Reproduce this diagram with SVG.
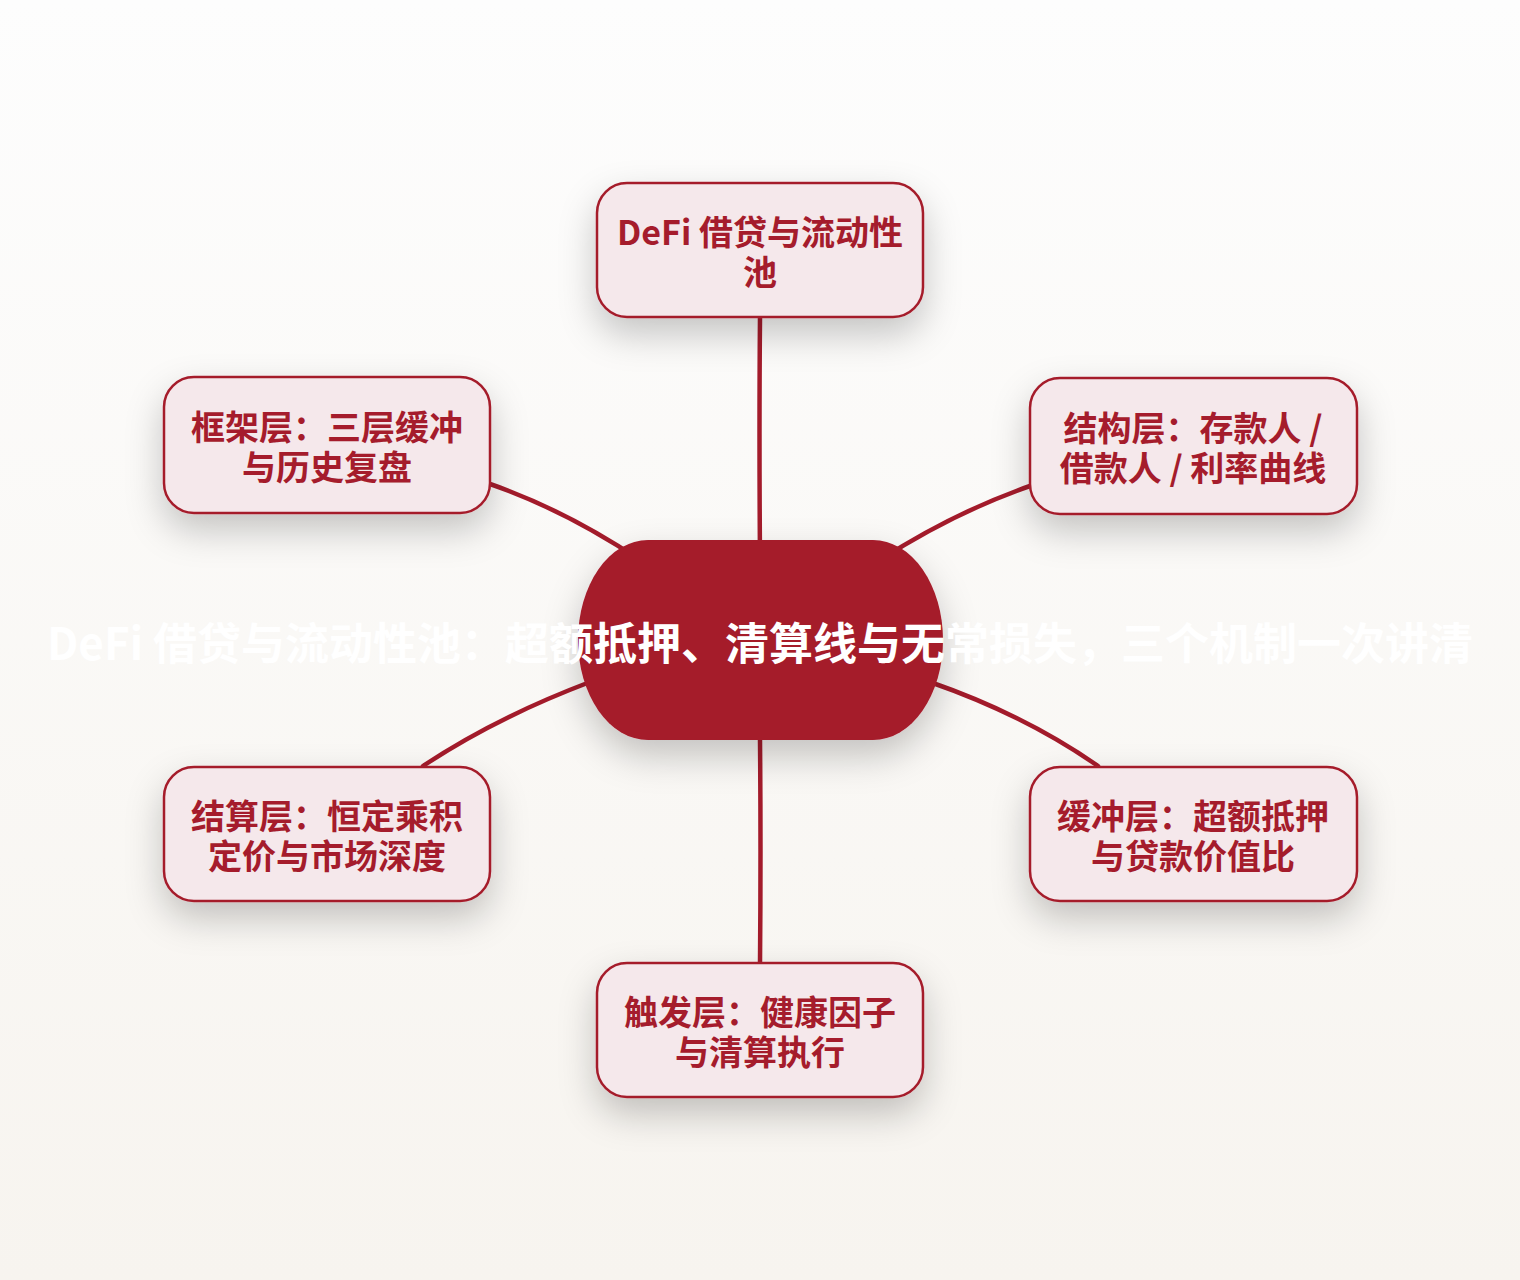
<svg xmlns="http://www.w3.org/2000/svg" width="1520" height="1280" viewBox="0 0 1520 1280">
  <defs>
    <linearGradient id="bg" x1="0" y1="0" x2="0" y2="1">
      <stop offset="0" stop-color="#fdfdfd"/>
      <stop offset="1" stop-color="#f7f4ef"/>
    </linearGradient>
    <filter id="shadow" x="-30%" y="-30%" width="160%" height="190%">
      <feDropShadow dx="0" dy="16" stdDeviation="18" flood-color="#000" flood-opacity="0.22"/>
    </filter>
    <style>
      .box { fill: #f5e8eb; stroke: #a51c2c; stroke-width: 2.5; }
      .lbl { font-family: "Noto Sans CJK SC", "Noto Sans", sans-serif; font-weight: 700; font-size: 34px; fill: #a51c2c; text-anchor: middle; }
      .edge { fill: none; stroke: #a31b2b; stroke-width: 4.5; stroke-linecap: round; }
      .hub { fill: #a51b2b; }
      .hubtxt { font-family: "Noto Sans CJK SC", "Noto Sans", sans-serif; font-weight: 700; font-size: 44px; fill: #ffffff; text-anchor: middle; }
    </style>
  </defs>
  <rect x="0" y="0" width="1520" height="1280" fill="url(#bg)"/>

  <g id="connectors">
    <path class="edge" d="M760,317 Q759,430 760,560"/>
    <path class="edge" d="M760,740 Q761,850 760,963"/>
    <path class="edge" d="M490,484 Q565,510 640,560"/>
    <path class="edge" d="M1030,486 Q955,512 880,560"/>
    <path class="edge" d="M590,682 Q495,718 423,766"/>
    <path class="edge" d="M930,682 Q1025,715 1098,766"/>
  </g>

  <g id="center">
    <rect class="hub" x="578" y="540" width="365" height="200" rx="70" ry="100" filter="url(#shadow)"/>
    <text class="hubtxt" x="760" y="660">DeFi 借贷与流动性池：超额抵押、清算线与无常损失，三个机制一次讲清</text>
  </g>

  <g id="node-top">
    <rect class="box" x="597" y="183" width="326" height="134" rx="30" filter="url(#shadow)"/>
    <text class="lbl" x="760" y="245">DeFi 借贷与流动性</text>
    <text class="lbl" x="760" y="285">池</text>
  </g>

  <g id="node-framework">
    <rect class="box" x="164" y="377" width="326" height="136" rx="30" filter="url(#shadow)"/>
    <text class="lbl" x="327" y="440">框架层：三层缓冲</text>
    <text class="lbl" x="327" y="480">与历史复盘</text>
  </g>

  <g id="node-structure">
    <rect class="box" x="1030" y="378" width="327" height="136" rx="30" filter="url(#shadow)"/>
    <text class="lbl" x="1193" y="441">结构层：存款人 /</text>
    <text class="lbl" x="1193" y="481">借款人 / 利率曲线</text>
  </g>

  <g id="node-settlement">
    <rect class="box" x="164" y="767" width="326" height="134" rx="30" filter="url(#shadow)"/>
    <text class="lbl" x="327" y="829">结算层：恒定乘积</text>
    <text class="lbl" x="327" y="869">定价与市场深度</text>
  </g>

  <g id="node-buffer">
    <rect class="box" x="1030" y="767" width="327" height="134" rx="30" filter="url(#shadow)"/>
    <text class="lbl" x="1193" y="829">缓冲层：超额抵押</text>
    <text class="lbl" x="1193" y="869">与贷款价值比</text>
  </g>

  <g id="node-trigger">
    <rect class="box" x="597" y="963" width="326" height="134" rx="30" filter="url(#shadow)"/>
    <text class="lbl" x="760" y="1025">触发层：健康因子</text>
    <text class="lbl" x="760" y="1065">与清算执行</text>
  </g>
</svg>
